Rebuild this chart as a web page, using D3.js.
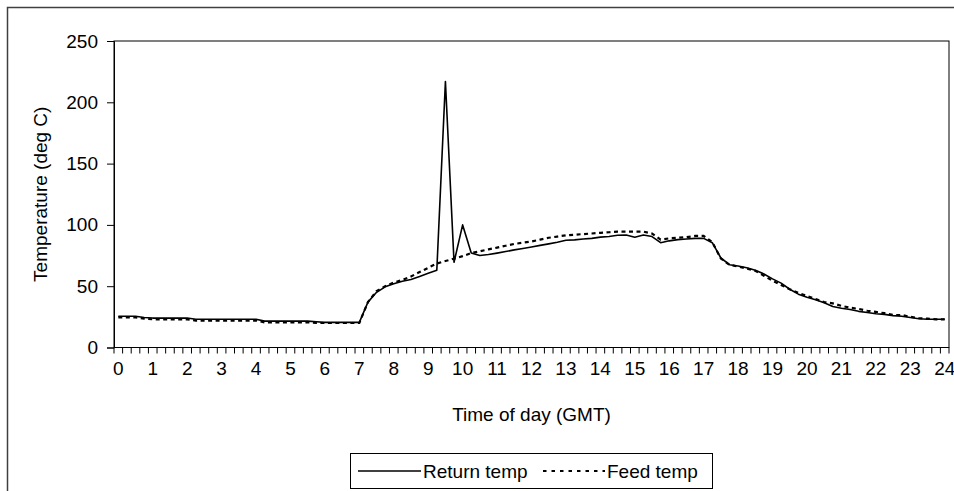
<!DOCTYPE html>
<html>
<head>
<meta charset="utf-8">
<script src="https://cdn.jsdelivr.net/npm/d3@7"></script>
<style>
  html, body { margin: 0; padding: 0; background: #fff; }
  svg { display: block; font-family: "Liberation Sans", Arial, sans-serif; }
</style>
</head>
<body>
<svg id="chart" width="954" height="491"></svg>
<script>
// 15-minute samples, 0:00 .. 24:00 (97 categories)
const categories = d3.range(97).map(i => i / 4);
const tickLabels = ["0","1","2","3","4","5","6","7","8","9","10","11","12",
                    "13","14","15","16","17","18","19","20","21","22","23","24"];
const yTicks = [0, 50, 100, 150, 200, 250];

const returnTemp = [
  25.5, 25.5, 25.5, 24.5, 24, 24, 24, 24, 24, 23, 23, 23, 23, 23, 23, 23,
  23, 21.5, 21.5, 21.5, 21.5, 21.5, 21.5, 21, 20.5, 20.5, 20.5, 20.5, 20.5, 37, 45, 49.5,
  52, 54, 55.5, 58, 60.5, 63, 217, 69.5, 100, 77, 75, 75.8, 77, 78.3, 79.6, 80.8,
  82, 83.3, 84.5, 85.8, 87.5, 87.8, 88.5, 89, 90, 90.5, 91.5, 91.8, 90, 91.8, 90.5, 85.5,
  87, 88, 88.5, 89, 89, 85.5, 73, 67.5, 66.5, 65, 63, 60, 56, 52.5, 47.5, 43.5,
  41, 39, 36.5, 33.5, 32, 31, 29.5, 28.5, 27.5, 27, 26, 25.5, 24.5, 23.5, 23, 23,
  23
];
const feedTemp = [
  24.5, 24.5, 24.5, 23.5, 23, 23, 23, 23, 23, 22, 22, 22, 22, 22, 22, 22,
  22, 20.5, 20.5, 20.5, 20.5, 20.5, 20.5, 20, 20, 20, 20, 20, 20, 37, 46, 50,
  53, 55, 58, 61.5, 65, 68.5, 70.5, 72.5, 74.5, 77, 78.5, 80, 81.5, 83, 84.5, 85.5,
  86.5, 88, 89.5, 90.5, 91.5, 92, 92.5, 93, 93.5, 94, 94.5, 94.5, 94.5, 94.5, 93, 88,
  89, 89.5, 90, 91, 91, 86, 72.5, 67.5, 66, 64.5, 62.5, 58.5, 54.5, 51, 47.5, 44.5,
  42, 39.5, 37, 36, 34, 32.5, 31.5, 30, 29, 28, 26.5, 26.5, 25, 24, 23.5, 23,
  23
];
const seriesNames = ["Return temp", "Feed temp"];

const svg = d3.select("#chart");
const plot = { left: 114, top: 41, right: 949, bottom: 347.5 };
const FONT = 19;

// outer chart-area border (cropped at right/bottom)
svg.append("rect").attr("x", 7.5).attr("y", 7.5).attr("width", 980).attr("height", 520)
  .attr("fill", "none").attr("stroke", "#404040").attr("stroke-width", 1.5);

const x = d3.scaleBand().domain(d3.range(categories.length))
  .range([plot.left, plot.right]).padding(0);
const y = d3.scaleLinear().domain([0, 250]).range([plot.bottom, plot.top]);

// plot area border
svg.append("rect").attr("x", plot.left).attr("y", plot.top)
  .attr("width", plot.right - plot.left).attr("height", plot.bottom - plot.top)
  .attr("fill", "none").attr("stroke", "#000").attr("stroke-width", 1);

// y axis
const yAxis = d3.axisLeft(y).tickValues(yTicks).tickSize(7).tickPadding(9);
const gy = svg.append("g").attr("transform", `translate(${plot.left},0)`).call(yAxis);
gy.select(".domain").attr("stroke", "#000");
gy.selectAll(".tick line").attr("stroke", "#000");
gy.selectAll(".tick text").attr("font-size", FONT).attr("fill", "#000")
  .attr("font-family", "Liberation Sans, Arial, sans-serif");

// x axis: tick marks at category boundaries, labels every 4th category (each hour)
const bw = x.bandwidth();
const boundaries = d3.range(categories.length + 1);
const gx = svg.append("g");
gx.append("line").attr("x1", plot.left).attr("x2", plot.right)
  .attr("y1", plot.bottom).attr("y2", plot.bottom).attr("stroke", "#000");
gx.selectAll("line.tk").data(boundaries).join("line").attr("class", "tk")
  .attr("x1", d => plot.left + d * bw).attr("x2", d => plot.left + d * bw)
  .attr("y1", plot.bottom).attr("y2", plot.bottom + 6)
  .attr("stroke", "#000").attr("stroke-width", 1);
gx.selectAll("text").data(tickLabels).join("text")
  .attr("x", (d, i) => x(i * 4) + bw / 2)
  .attr("y", 374.5)
  .attr("text-anchor", "middle")
  .attr("font-size", FONT).attr("fill", "#000")
  .text(d => d);

// axis titles
svg.append("text").attr("x", (plot.left + plot.right) / 2).attr("y", 421)
  .attr("text-anchor", "middle").attr("font-size", FONT).text("Time of day (GMT)");
svg.append("text")
  .attr("transform", `translate(47,${(plot.top + plot.bottom) / 2}) rotate(-90)`)
  .attr("text-anchor", "middle").attr("font-size", FONT).text("Temperature (deg C)");

// lines
const line = d3.line().x((d, i) => x(i) + bw / 2).y(d => y(d));
svg.append("path").datum(feedTemp).attr("d", line)
  .attr("fill", "none").attr("stroke", "#000").attr("stroke-width", 2.2)
  .attr("stroke-dasharray", "4,3.5");
svg.append("path").datum(returnTemp).attr("d", line)
  .attr("fill", "none").attr("stroke", "#000").attr("stroke-width", 1.6)
  .attr("stroke-linejoin", "round");

// legend
const lg = svg.append("g");
lg.append("rect").attr("x", 350.5).attr("y", 453.5).attr("width", 362).attr("height", 35)
  .attr("fill", "#fff").attr("stroke", "#000").attr("stroke-width", 1);
lg.append("line").attr("x1", 358).attr("x2", 421).attr("y1", 471).attr("y2", 471)
  .attr("stroke", "#000").attr("stroke-width", 1.6);
lg.append("text").attr("x", 423).attr("y", 477.5).attr("font-size", FONT).text(seriesNames[0]);
lg.append("line").attr("x1", 543).attr("x2", 605).attr("y1", 471).attr("y2", 471)
  .attr("stroke", "#000").attr("stroke-width", 2).attr("stroke-dasharray", "3.5,5");
lg.append("text").attr("x", 607).attr("y", 477.5).attr("font-size", FONT).text(seriesNames[1]);
</script>
</body>
</html>
